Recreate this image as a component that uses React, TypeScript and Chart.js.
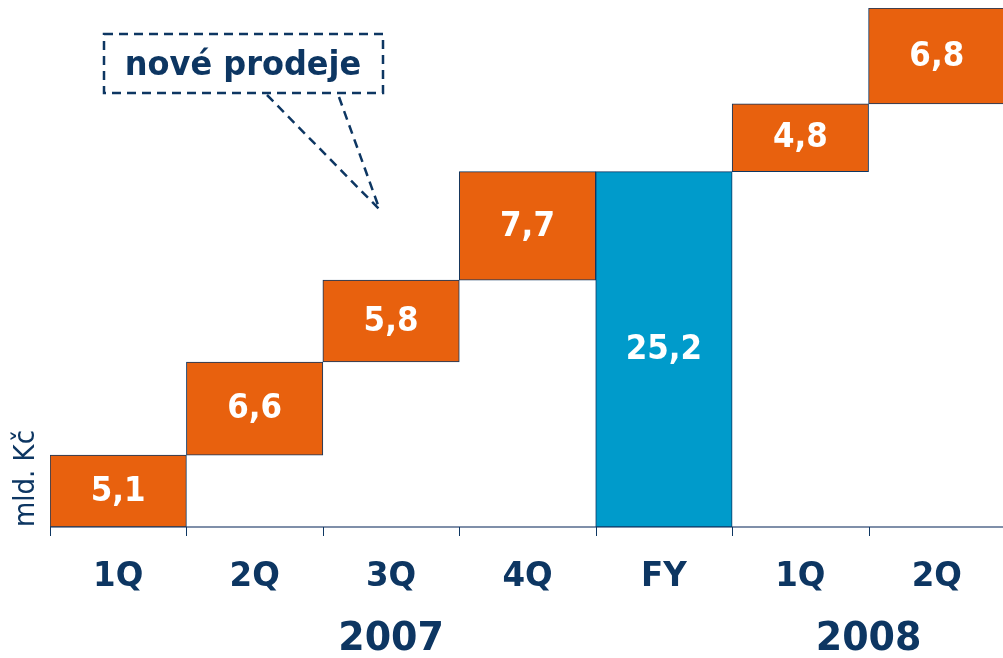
import React, { useEffect, useRef } from "react";
import { Chart, registerables } from "chart.js";

Chart.register(...registerables);

const categories = ["1Q", "2Q", "3Q", "4Q", "FY", "1Q", "2Q"];
const values = [5.1, 6.6, 5.8, 7.7, 25.2, 4.8, 6.8];
const bases = [0, 5.1, 11.7, 17.5, 0, 25.2, 30.0];
const valueLabels = ["5,1", "6,6", "5,8", "7,7", "25,2", "4,8", "6,8"];
const barColors = ["#E8610E", "#E8610E", "#E8610E", "#E8610E", "#009BCB", "#E8610E", "#E8610E"];
const yearGroups = [
  { label: "2007", from: 0, to: 4 },
  { label: "2008", from: 5, to: 6 },
];
const yAxisTitle = "mld. Kč";
const calloutText = "nové prodeje";

const NAVY = "#0D3662";
const FONT = "'DejaVu Sans', Verdana, sans-serif";

function drawText(ctx: any, text: string, x: number, y: number, sy: number) {
  ctx.save();
  ctx.translate(x, y);
  ctx.scale(1, sy);
  ctx.fillText(text, 0, 0);
  ctx.restore();
}

const overlay = {
  id: "overlay",
  beforeDatasetsDraw(chart: any) {
    const { ctx, chartArea } = chart;
    const y = chart.scales.y;
    const base = y.getPixelForValue(0);
    ctx.save();
    ctx.strokeStyle = "#7F8FA9";
    ctx.lineWidth = 2;
    ctx.beginPath();
    ctx.moveTo(chartArea.left, base);
    ctx.lineTo(chartArea.right, base);
    ctx.stroke();
    ctx.restore();
  },
  afterDatasetsDraw(chart: any) {
    const { ctx, chartArea } = chart;
    const x = chart.scales.x;
    const y = chart.scales.y;
    const base = y.getPixelForValue(0);
    const n = categories.length;
    const w = (chartArea.right - chartArea.left) / n;
    ctx.save();
    // tick marks
    ctx.strokeStyle = NAVY;
    ctx.lineWidth = 1;
    for (let i = 0; i <= n; i++) {
      const px = Math.round(chartArea.left + i * w) + 0.5;
      ctx.beginPath();
      ctx.moveTo(px, base);
      ctx.lineTo(px, base + 9);
      ctx.stroke();
    }
    // value labels
    const meta = chart.getDatasetMeta(0);
    ctx.fillStyle = "#FFFFFF";
    ctx.font = `bold 31px ${FONT}`;
    ctx.textAlign = "center";
    ctx.textBaseline = "middle";
    meta.data.forEach((bar: any, i: number) => {
      const cy = (bar.y + bar.base) / 2;
      drawText(ctx, valueLabels[i], bar.x, cy + 1, 1.07);
    });
    // category labels
    ctx.fillStyle = NAVY;
    ctx.font = `bold 32.5px ${FONT}`;
    categories.forEach((c, i) => {
      drawText(ctx, c, x.getPixelForValue(i), base + 50, 1.05);
    });
    // years
    ctx.font = `bold 38px ${FONT}`;
    yearGroups.forEach((g) => {
      const left = chartArea.left + g.from * w;
      const right = chartArea.left + (g.to + 1) * w;
      drawText(ctx, g.label, (left + right) / 2, base + 113, 1.02);
    });
    // y axis title
    ctx.save();
    ctx.translate(27, base);
    ctx.rotate(-Math.PI / 2);
    ctx.textAlign = "left";
    ctx.font = `26px ${FONT}`;
    ctx.scale(1, 1.08);
    ctx.fillText(yAxisTitle, 0, 0);
    ctx.restore();
    // callout
    ctx.strokeStyle = NAVY;
    ctx.lineWidth = 2.5;
    ctx.setLineDash([9, 6]);
    ctx.strokeRect(104, 34, 279, 59);
    ctx.beginPath();
    ctx.moveTo(267, 95);
    ctx.lineTo(380, 210);
    ctx.moveTo(339, 97);
    ctx.lineTo(378, 205);
    ctx.stroke();
    ctx.setLineDash([]);
    ctx.font = `bold 32px ${FONT}`;
    ctx.fillStyle = NAVY;
    drawText(ctx, calloutText, 243, 66, 1.05);
    ctx.restore();
  },
};

export default function App() {
  const ref = useRef<HTMLCanvasElement>(null);
  useEffect(() => {
    document.body.style.margin = "0";
    document.body.style.overflow = "hidden";
    const chart = new Chart(ref.current!, {
      type: "bar",
      data: {
        labels: categories,
        datasets: [
          {
            data: values.map((v, i) => [bases[i], bases[i] + v]) as any,
            backgroundColor: barColors,
            borderColor: NAVY,
            borderWidth: 1,
            borderSkipped: false,
            barPercentage: 1,
            categoryPercentage: 1,
          },
        ],
      },
      options: {
        responsive: false,
        animation: false,
        devicePixelRatio: 1,
        layout: { padding: { left: 50, right: 0, top: 8, bottom: 131 } },
        plugins: { legend: { display: false }, tooltip: { enabled: false } },
        scales: {
          x: { display: false },
          y: { display: false, min: 0, max: 36.8 },
        },
      },
      plugins: [overlay],
    });
    return () => chart.destroy();
  }, []);
  return (
    <div style={{ width: 1003, height: 658, overflow: "hidden" }}>
      <canvas ref={ref} width={1005} height={658} style={{ display: "block" }} />
    </div>
  );
}
